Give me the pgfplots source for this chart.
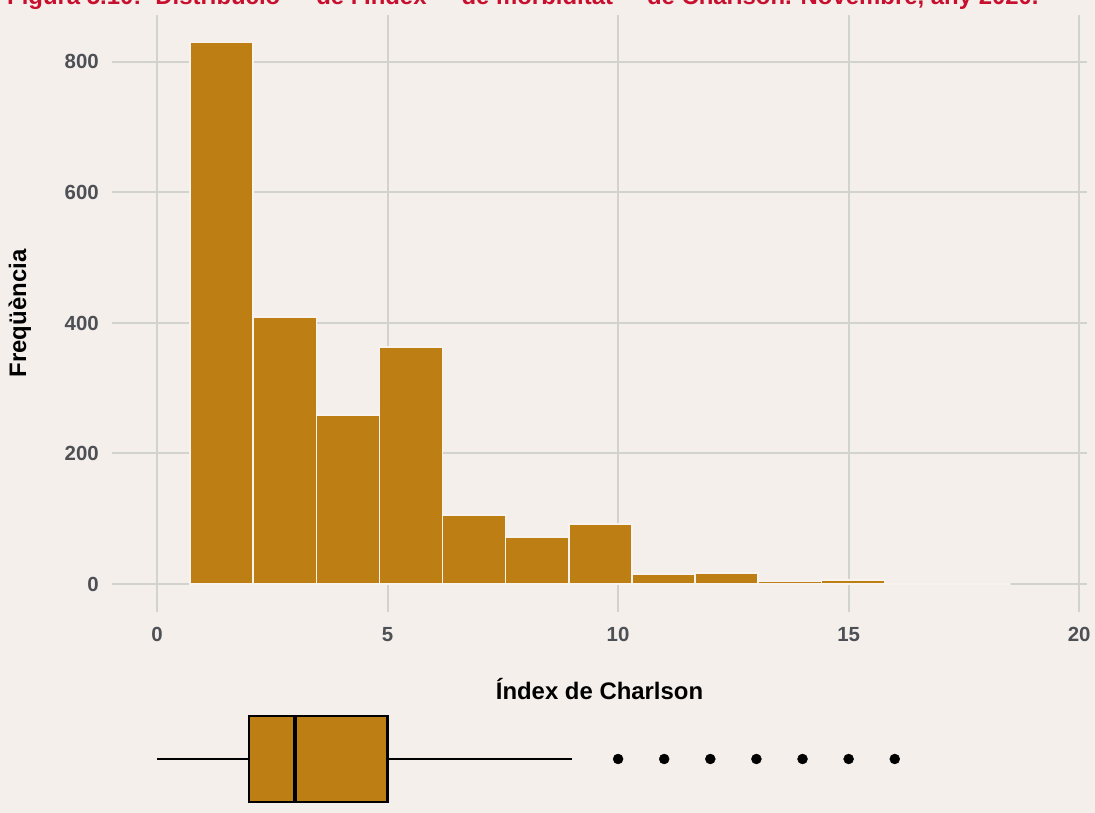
\documentclass[border=0pt]{standalone}
\usepackage{fontspec}
\setmainfont{Liberation Sans}
\usepackage{pgfplots}
\pgfplotsset{compat=1.18}
\definecolor{bg}{RGB}{245,239,236}
\definecolor{barcol}{RGB}{189,127,20}
\definecolor{barline}{RGB}{248,243,238}
\definecolor{gridcol}{RGB}{211,211,206}
\definecolor{tickcol}{RGB}{77,80,85}
\definecolor{titlecol}{RGB}{200,16,46}
\begin{document}
\begin{tikzpicture}[x=1bp,y=1bp]
\path[use as bounding box] (0,0) rectangle (1095,813);
\clip (0,0) rectangle (1095,813);
\fill[bg] (0,0) rectangle (1095,813);
\node[anchor=base west, inner sep=0, text=titlecol, font=\fontsize{24}{28}\selectfont\bfseries] at (7,808) {Figura 5.10:\hspace{14bp}Distribució\hspace{36bp}de l'Índex\hspace{35bp}de morbiditat\hspace{34bp}de Charlson. Novembre, any 2020.};
\begin{axis}[
  at={(112bp,201bp)}, anchor=south west, scale only axis,
  width=975bp, height=597bp,
  xmin=-0.976, xmax=20.17, ymin=-42.9, ymax=872,
  axis line style={draw=none},
  major tick length=0pt, tick style={draw=none},
  xtick={0,5,10,15,20}, ytick={0,200,400,600,800},
  grid=major, major grid style={gridcol, line width=2bp},
  /pgf/number format/assume math mode=true,
  ticklabel style={font=\fontsize{20.5}{24}\selectfont\bfseries, text=tickcol, inner sep=0pt},
  xticklabel style={anchor=north, yshift=-15bp},
  yticklabel style={anchor=east, xshift=-13bp},
  xlabel={Índex de Charlson}, ylabel={Freqüència},
  label style={font=\fontsize{24}{28}\selectfont\bfseries, text=black},
  xlabel style={at={(axis description cs:0.5,-0.129)}, anchor=center},
  ylabel style={at={(axis description cs:-0.0944,0.5)}, anchor=center},
]
\addplot[ybar interval, fill=barcol, draw=barline, line width=1.5bp] coordinates {
  (0.716,830) (2.085,409) (3.454,259) (4.823,363) (6.192,106) (7.561,72)
  (8.930,92) (10.299,15) (11.668,17) (13.037,4) (14.406,6) (15.775,0)
  (17.144,0) (18.513,0)
};
\end{axis}
\begin{axis}[
  at={(112bp,11bp)}, anchor=south west, scale only axis,
  width=975bp, height=86bp,
  xmin=-0.976, xmax=20.17, ymin=-1, ymax=1,
  hide axis, clip=false,
]
\addplot[black, line width=2.5bp] coordinates {(0,0) (2,0)};
\addplot[black, line width=2.5bp] coordinates {(5,0) (9,0)};
\addplot[fill=barcol, draw=black, line width=2.5bp] coordinates {(2,-1) (5,-1) (5,1) (2,1)} --cycle;
\addplot[black, line width=4bp] coordinates {(3,-1) (3,1)};
\addplot[only marks, mark=*, mark size=5bp, black] coordinates {(10,0) (11,0) (12,0) (13,0) (14,0) (15,0) (16,0)};
\end{axis}
\end{tikzpicture}
\end{document}
